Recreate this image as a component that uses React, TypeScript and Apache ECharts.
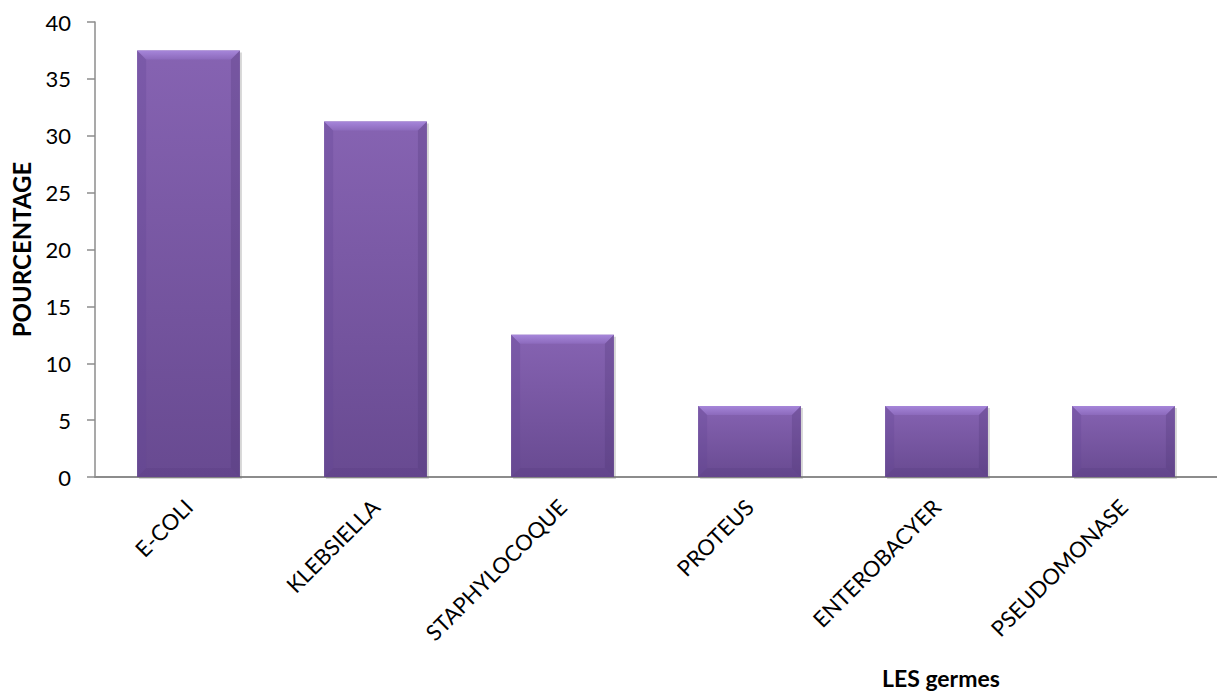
import React, { useEffect, useRef } from "react";
import * as echarts from "echarts";

const categories = ["E-COLI", "KLEBSIELLA", "STAPHYLOCOQUE", "PROTEUS", "ENTEROBACYER", "PSEUDOMONASE"];
const percentages = [37.5, 31.25, 12.5, 6.25, 6.25, 6.25];
const yTicks = { min: 0, max: 40, interval: 5 };
const yTitle = "POURCENTAGE";
const xTitle = "LES germes";

const FONT = "Lato, 'Open Sans', 'Liberation Sans', sans-serif";

// Bevelled bar, sized from the category band and the value axis
function renderBar(params: any, api: any) {
  const idx = api.value(0);
  const v = api.value(1);
  const top = api.coord([idx, v]);
  const base = api.coord([idx, 0]);
  const band = api.size([1, 0])[0];
  const w = band * 0.55;
  const x0 = top[0] - w / 2;
  const x1 = top[0] + w / 2;
  const y0 = top[1];
  const y1 = base[1];
  const b = 9;
  return {
    type: "group",
    children: [
      {
        type: "rect",
        shape: { x: x0 + 2, y: y0 + 2, width: w, height: y1 - y0 },
        style: { fill: "rgba(120,120,120,0.3)" },
      },
      {
        type: "rect",
        shape: { x: x0, y: y0, width: w, height: y1 - y0 },
        style: {
          fill: new echarts.graphic.LinearGradient(0, 0, 0, 1, [
            { offset: 0, color: "#8663b2" },
            { offset: 1, color: "#684a91" },
          ]),
        },
      },
      {
        type: "polygon",
        shape: { points: [[x0, y0], [x1, y0], [x1 - b, y0 + b], [x0 + b, y0 + b]] },
        style: {
          fill: new echarts.graphic.LinearGradient(0, 0, 0, 1, [
            { offset: 0, color: "#a686da" },
            { offset: 1, color: "#8c6abc" },
          ]),
        },
      },
      {
        type: "polygon",
        shape: { points: [[x0, y0], [x0 + b, y0 + b], [x0 + b, y1 - b], [x0, y1]] },
        style: { fill: "rgba(100,70,150,0.3)" },
      },
      {
        type: "polygon",
        shape: { points: [[x1, y0], [x1, y1], [x1 - b, y1 - b], [x1 - b, y0 + b]] },
        style: { fill: "rgba(80,55,120,0.28)" },
      },
      {
        type: "polygon",
        shape: { points: [[x0, y1], [x0 + b, y1 - b], [x1 - b, y1 - b], [x1, y1]] },
        style: { fill: "rgba(80,55,125,0.22)" },
      },
    ],
  };
}

export default function App() {
  const ref = useRef<HTMLDivElement>(null);

  useEffect(() => {
    if (!ref.current) return;
    const chart = echarts.init(ref.current, null, { renderer: "svg" });
    chart.setOption({
      animation: false,
      backgroundColor: "#ffffff",
      grid: { left: 95, top: 22, bottom: 215, width: 1138 },
      xAxis: {
        type: "category",
        data: categories,
        axisLine: { lineStyle: { color: "#8c8c8c", width: 2 } },
        axisTick: { show: false },
        axisLabel: {
          rotate: 45,
          margin: 26,
          fontSize: 22,
          color: "#000",
          fontFamily: FONT,
        },
      },
      yAxis: {
        type: "value",
        min: yTicks.min,
        max: yTicks.max,
        interval: yTicks.interval,
        name: yTitle,
        nameLocation: "middle",
        nameRotate: 90,
        nameGap: 62,
        nameTextStyle: { fontSize: 24, fontWeight: "bold", color: "#000", fontFamily: FONT },
        axisLine: { show: true, lineStyle: { color: "#8c8c8c", width: 1.5 } },
        axisTick: { show: true, length: 8, lineStyle: { color: "#8c8c8c", width: 1.5 } },
        splitLine: { show: false },
        axisLabel: { fontSize: 22, color: "#000", margin: 24, fontFamily: FONT },
      },
      graphic: [
        {
          type: "text",
          left: 882,
          top: 666,
          style: { text: xTitle, fontSize: 23, fontWeight: "bold", fill: "#000", fontFamily: FONT },
        },
      ],
      series: [
        {
          type: "custom",
          renderItem: renderBar,
          encode: { x: 0, y: 1 },
          data: percentages.map((p, i) => [i, p]),
        },
      ],
    });
    return () => chart.dispose();
  }, []);

  return (
    <div
      ref={ref}
      style={{ position: "fixed", left: 0, top: 0, width: 1217, height: 692 }}
    />
  );
}
